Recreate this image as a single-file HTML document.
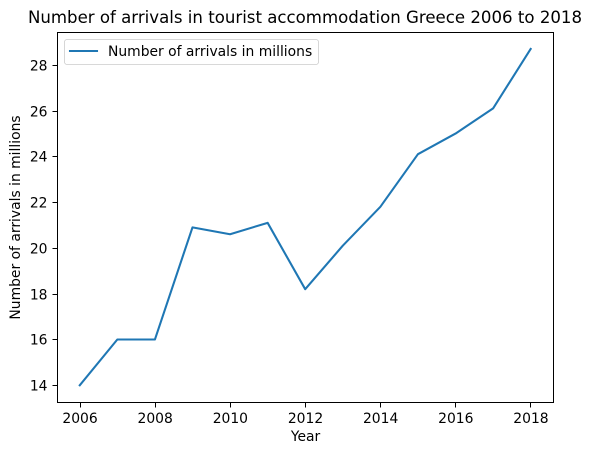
<!DOCTYPE html>
<html>
<head>
<meta charset="utf-8">
<style>
html,body{margin:0;padding:0;background:#fff;}
svg{display:block;}
text{font-family:"DejaVu Sans",sans-serif;fill:#000;}
</style>
</head>
<body>
<svg id="chart" xmlns="http://www.w3.org/2000/svg" width="592" height="455" viewBox="0 0 592 455">
<rect x="0" y="0" width="592" height="455" fill="#fff"/>
<text x="305" y="23" font-size="16.6" text-anchor="middle">Number of arrivals in tourist accommodation Greece 2006 to 2018</text>
<g id="marks"></g>
<rect x="57.5" y="32.5" width="496" height="370" fill="none" stroke="#000" stroke-width="1" shape-rendering="crispEdges"/>
<g id="ticks"></g>
<text x="305.5" y="441" font-size="13.89" text-anchor="middle">Year</text>
<text transform="translate(20,217.5) rotate(-90)" font-size="13.89" text-anchor="middle">Number of arrivals in millions</text>
<g>
<rect x="64.5" y="39.5" width="254" height="25" rx="2.5" fill="#fff" fill-opacity="0.8" stroke="#ccc" stroke-width="0.8"/>
<line x1="70" y1="51" x2="97" y2="51" stroke="#1f77b4" stroke-width="2.08" stroke-linecap="square"/>
<text x="108" y="56" font-size="13.89">Number of arrivals in millions</text>
</g>
</svg>
<script>
const years = [2006, 2007, 2008, 2009, 2010, 2011, 2012, 2013, 2014, 2015, 2016, 2017, 2018];
const arrivals = [14, 16, 16, 20.9, 20.6, 21.1, 18.2, 20.1, 21.8, 24.1, 25, 26.1, 28.7];
const xTickLabels = [2006, 2008, 2010, 2012, 2014, 2016, 2018];
const yTickLabels = [14, 16, 18, 20, 22, 24, 26, 28];

const NS = 'http://www.w3.org/2000/svg';
const plot = {left: 57.5, right: 553.5, top: 32.5, bottom: 402.5};
const xDomain = [2005.4, 2018.6];
const yDomain = [13.265, 29.435];
const lineOffsetX = -0.3;
const lineOffsetY = -0.4;

function xScale(v) {
  return plot.left + (v - xDomain[0]) / (xDomain[1] - xDomain[0]) * (plot.right - plot.left);
}
function yScale(v) {
  return plot.bottom - (v - yDomain[0]) / (yDomain[1] - yDomain[0]) * (plot.bottom - plot.top);
}

const ticksGroup = document.getElementById('ticks');
const marksGroup = document.getElementById('marks');

xTickLabels.forEach(function (t) {
  const x = Math.floor(xScale(t)) + 0.5;
  const tick = document.createElementNS(NS, 'line');
  
  
  tick.setAttribute('x1', x);
  tick.setAttribute('x2', x);
  tick.setAttribute('y1', plot.bottom);
  tick.setAttribute('y2', plot.bottom + 4.86);
  tick.setAttribute('stroke', '#000');
  tick.setAttribute('stroke-width', '1');
  tick.setAttribute('shape-rendering', 'crispEdges');
  ticksGroup.appendChild(tick);
  const label = document.createElementNS(NS, 'text');
  
  
  label.setAttribute('x', xScale(t));
  label.setAttribute('y', 423);
  label.setAttribute('font-size', '13.89');
  label.setAttribute('text-anchor', 'middle');
  label.textContent = t;
  ticksGroup.appendChild(label);
});

yTickLabels.forEach(function (t) {
  const y = Math.floor(yScale(t)) + 0.5;
  const tick = document.createElementNS(NS, 'line');
  
  
  tick.setAttribute('x1', plot.left - 4.86);
  tick.setAttribute('x2', plot.left);
  tick.setAttribute('y1', y);
  tick.setAttribute('y2', y);
  tick.setAttribute('stroke', '#000');
  tick.setAttribute('stroke-width', '1');
  tick.setAttribute('shape-rendering', 'crispEdges');
  ticksGroup.appendChild(tick);
  const label = document.createElementNS(NS, 'text');
  
  
  label.setAttribute('x', 47.5);
  label.setAttribute('y', y + 5);
  label.setAttribute('font-size', '13.89');
  label.setAttribute('text-anchor', 'end');
  label.textContent = t;
  ticksGroup.appendChild(label);
});

const series = document.createElementNS(NS, 'polyline');


series.setAttribute('points', years.map(function (yr, i) {
  return (xScale(yr) + lineOffsetX) + ',' + (yScale(arrivals[i]) + lineOffsetY);
}).join(' '));
series.setAttribute('fill', 'none');
series.setAttribute('stroke', '#1f77b4');
series.setAttribute('stroke-width', '2.08');
series.setAttribute('stroke-linejoin', 'round');
series.setAttribute('stroke-linecap', 'square');
marksGroup.appendChild(series);
</script>
</body>
</html>
